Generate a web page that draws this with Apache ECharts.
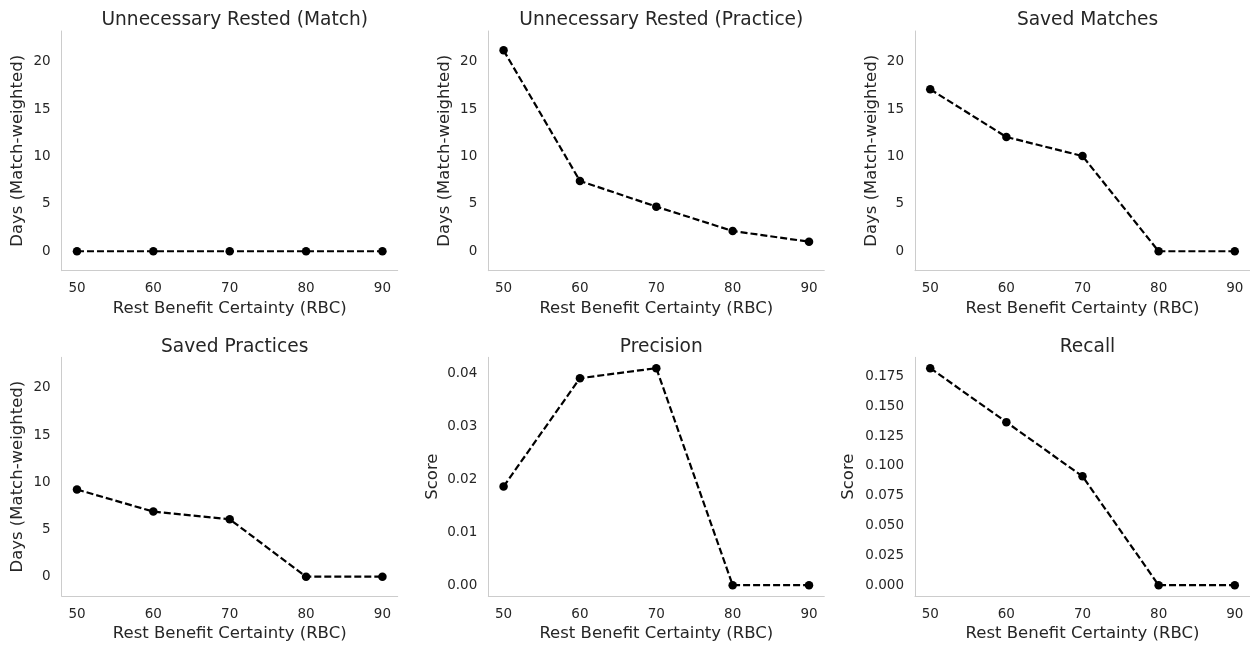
<!DOCTYPE html>
<html>
<head>
<meta charset="utf-8">
<script src="https://cdn.jsdelivr.net/npm/echarts@6/dist/echarts.min.js"></script>
<style>html,body{margin:0;padding:0;background:#fff}#c{width:1250px;height:645px}</style>
</head>
<body>
<div id="c"></div>
<script>
// ---- data ----
const rbc = [50, 60, 70, 80, 90];
const unnecessaryRestedMatch = [0, 0, 0, 0, 0];
const unnecessaryRestedPractice = [21.2, 7.42, 4.71, 2.14, 1.01];
const savedMatches = [17.09, 12.06, 10.05, 0, 0];
const savedPractices = [9.23, 6.89, 6.08, 0, 0];
const precision = [0.01864, 0.0391, 0.0410, 0, 0];
const recall = [0.1821, 0.1368, 0.0913, 0, 0];

const titles = ['Unnecessary Rested (Match)', 'Unnecessary Rested (Practice)', 'Saved Matches',
                'Saved Practices', 'Precision', 'Recall'];
const xTicks = [50, 60, 70, 80, 90];
const daysTicks = [0, 5, 10, 15, 20];
const precisionTicks = [0, 0.01, 0.02, 0.03, 0.04];
const recallTicks = [0, 0.025, 0.05, 0.075, 0.1, 0.125, 0.15, 0.175];
const daysLabel = 'Days (Match-weighted)';
const scoreLabel = 'Score';
const xLabel = 'Rest Benefit Certainty (RBC)';

// ---- layout ----
const FONT = 'DejaVu Sans';
const TXT = '#262626';
const AX = '#cccccc';
const colLeft = [61.7, 488.3, 915];
const colWidth = [336, 336, 335];
const rowTop = [31, 357.3];
const rowHeight = [239.7, 238.7];

const panels = [
  {data: unnecessaryRestedMatch, ticks: daysTicks, min: -2.05, max: 23.24, name: daysLabel, gap: 35, dec: 0},
  {data: unnecessaryRestedPractice, ticks: daysTicks, min: -2.05, max: 23.24, name: daysLabel, gap: 35, dec: 0},
  {data: savedMatches, ticks: daysTicks, min: -2.05, max: 23.24, name: daysLabel, gap: 35, dec: 0},
  {data: savedPractices, ticks: daysTicks, min: -2.05, max: 23.24, name: daysLabel, gap: 35, dec: 0},
  {data: precision, ticks: precisionTicks, min: -0.00205, max: 0.04305, name: scoreLabel, gap: 47.5, dec: 2},
  {data: recall, ticks: recallTicks, min: -0.0091, max: 0.1912, name: scoreLabel, gap: 57.5, dec: 3}
];

const grid = [], xAxis = [], yAxis = [], series = [], title = [];
panels.forEach((p, i) => {
  const r = Math.floor(i / 3), c = i % 3;
  grid.push({left: colLeft[c], top: rowTop[r], width: colWidth[c], height: rowHeight[r], containLabel: false});
  title.push({
    text: titles[i],
    left: colLeft[c] + colWidth[c] / 2,
    top: rowTop[r] - 25,
    textAlign: 'center',
    textStyle: {fontFamily: FONT, fontSize: 18.6, fontWeight: 'normal', color: TXT}
  });
  xAxis.push({
    type: 'value', gridIndex: i, min: 48, max: 92,
    name: xLabel, nameLocation: 'middle', nameGap: 29.5,
    nameTextStyle: {fontFamily: FONT, fontSize: 16.5, color: TXT},
    axisLine: {show: true, onZero: false, lineStyle: {color: AX, width: 1}},
    axisTick: {show: false},
    splitLine: {show: false},
    axisLabel: {customValues: xTicks, margin: 11, fontFamily: FONT, fontSize: 13.5, color: TXT}
  });
  yAxis.push({
    type: 'value', gridIndex: i, min: p.min, max: p.max,
    name: p.name, nameLocation: 'middle', nameGap: p.gap,
    nameTextStyle: {fontFamily: FONT, fontSize: 16.5, color: TXT},
    axisLine: {show: true, onZero: false, lineStyle: {color: AX, width: 1}},
    axisTick: {show: false},
    splitLine: {show: false},
    axisLabel: {customValues: p.ticks, margin: 11, fontFamily: FONT, fontSize: 13.5, color: TXT,
                formatter: v => v.toFixed(p.dec)}
  });
  series.push({
    type: 'line', xAxisIndex: i, yAxisIndex: i,
    data: rbc.map((x, k) => [x, p.data[k]]),
    symbol: 'circle', symbolSize: 8.5,
    itemStyle: {color: '#000'},
    lineStyle: {color: '#000', width: 2.2, type: [7, 3]},
    animation: false
  });
});

const chart = echarts.init(document.getElementById('c'), null, {renderer: 'canvas'});
chart.setOption({backgroundColor: '#fff', animation: false, title, grid, xAxis, yAxis, series});
</script>
</body>
</html>
